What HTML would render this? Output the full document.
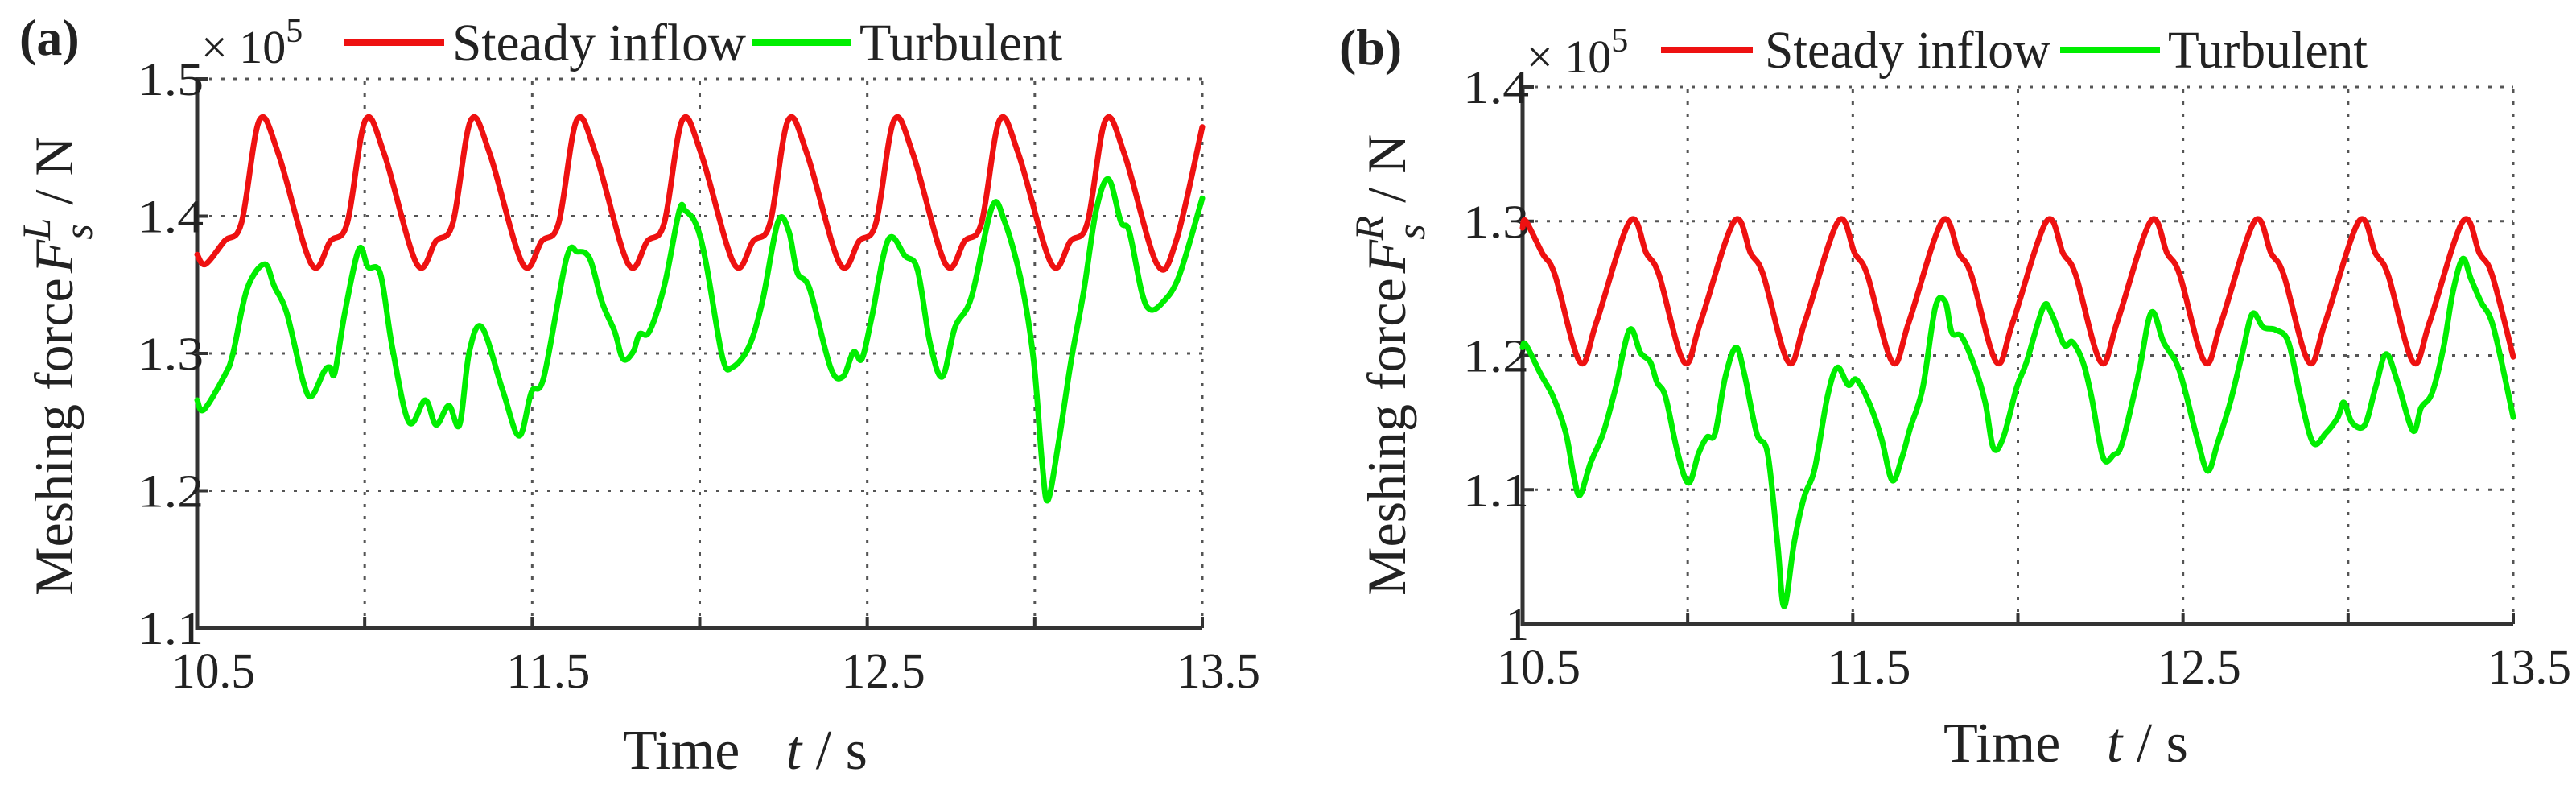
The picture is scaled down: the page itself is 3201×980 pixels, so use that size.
<!DOCTYPE html>
<html><head><meta charset="utf-8"><style>
html,body{margin:0;padding:0;background:#fff;}
svg text{font-family:"Liberation Serif",serif;fill:#222;}
</style></head><body>
<svg id="fig" width="3201" height="975" viewBox="0 0 3201 975" xmlns="http://www.w3.org/2000/svg"></svg>
<script>
// ---------- Data ----------
const xTicks = [10.5, 11, 11.5, 12, 12.5, 13, 13.5];
const xTickLabels = ["10.5", "", "11.5", "", "12.5", "", "13.5"];
const yTicksA = [1.1, 1.2, 1.3, 1.4, 1.5];
const yTickLabelsA = ["1.1", "1.2", "1.3", "1.4", "1.5"];
const yTicksB = [1.0, 1.1, 1.2, 1.3, 1.4];
const yTickLabelsB = ["1", "1.1", "1.2", "1.3", "1.4"];
const seriesNames = ["Steady inflow", "Turbulent"];

const redA_t = [10.5,10.525,10.582,10.632,10.686,10.743,10.841,10.898,10.948,11.002,11.059,11.156,11.213,11.263,11.317,11.374,11.472,11.529,11.579,11.633,11.690,11.787,11.844,11.894,11.948,12.005,12.103,12.160,12.210,12.264,12.321,12.419,12.476,12.526,12.580,12.637,12.734,12.791,12.841,12.895,12.952,13.050,13.107,13.157,13.211,13.268,13.365,13.422,13.5];
const redA_v = [1.372,1.365,1.382,1.395,1.47,1.445,1.365,1.382,1.395,1.47,1.445,1.365,1.382,1.395,1.47,1.445,1.365,1.382,1.395,1.47,1.445,1.365,1.382,1.395,1.47,1.445,1.365,1.382,1.395,1.47,1.445,1.365,1.382,1.395,1.47,1.445,1.365,1.382,1.395,1.47,1.445,1.365,1.382,1.395,1.47,1.445,1.365,1.382,1.465];

const greenA_t = [10.500,10.520,10.582,10.607,10.649,10.701,10.730,10.768,10.817,10.842,10.879,10.896,10.911,10.941,10.983,11.010,11.047,11.082,11.132,11.181,11.213,11.251,11.283,11.312,11.350,11.412,11.461,11.498,11.535,11.602,11.635,11.672,11.709,11.746,11.771,11.801,11.820,11.850,11.895,11.939,11.957,11.989,12.018,12.068,12.098,12.147,12.187,12.234,12.266,12.291,12.328,12.390,12.427,12.459,12.484,12.514,12.563,12.613,12.650,12.687,12.724,12.762,12.811,12.873,12.910,12.960,12.997,13.022,13.039,13.071,13.108,13.146,13.183,13.220,13.257,13.282,13.319,13.344,13.381,13.430,13.500];
const greenA_v = [1.266,1.259,1.284,1.300,1.347,1.365,1.349,1.329,1.279,1.269,1.287,1.290,1.286,1.330,1.376,1.363,1.358,1.305,1.250,1.266,1.248,1.262,1.248,1.301,1.319,1.273,1.240,1.272,1.283,1.369,1.374,1.369,1.337,1.316,1.296,1.301,1.314,1.316,1.350,1.404,1.404,1.394,1.367,1.297,1.290,1.305,1.338,1.396,1.389,1.359,1.347,1.290,1.283,1.301,1.296,1.327,1.383,1.371,1.361,1.308,1.283,1.319,1.341,1.407,1.396,1.352,1.294,1.220,1.193,1.235,1.294,1.345,1.404,1.427,1.396,1.389,1.345,1.332,1.337,1.356,1.413];

const redB_t = [10.5,10.510,10.560,10.598,10.674,10.724,10.825,10.875,10.913,10.989,11.039,11.141,11.191,11.229,11.305,11.355,11.456,11.506,11.544,11.620,11.670,11.771,11.821,11.859,11.935,11.985,12.087,12.137,12.175,12.251,12.301,12.402,12.452,12.490,12.566,12.616,12.717,12.767,12.805,12.881,12.931,13.033,13.083,13.121,13.197,13.247,13.348,13.398,13.436,13.5];
const redB_v = [1.295,1.30,1.276,1.26,1.195,1.225,1.30,1.276,1.26,1.195,1.225,1.30,1.276,1.26,1.195,1.225,1.30,1.276,1.26,1.195,1.225,1.30,1.276,1.26,1.195,1.225,1.30,1.276,1.26,1.195,1.225,1.30,1.276,1.26,1.195,1.225,1.30,1.276,1.26,1.195,1.225,1.30,1.276,1.26,1.195,1.225,1.30,1.276,1.26,1.199];

const greenB_t = [10.500,10.510,10.555,10.593,10.631,10.656,10.674,10.706,10.744,10.782,10.824,10.857,10.887,10.907,10.933,10.970,11.003,11.033,11.058,11.083,11.114,11.146,11.171,11.209,11.242,11.272,11.292,11.322,11.352,11.385,11.423,11.453,11.486,11.511,11.549,11.586,11.619,11.649,11.674,11.712,11.750,11.780,11.800,11.830,11.870,11.901,11.926,11.956,11.996,12.026,12.077,12.102,12.140,12.165,12.197,12.223,12.258,12.290,12.316,12.366,12.404,12.441,12.479,12.504,12.542,12.575,12.605,12.643,12.680,12.710,12.743,12.781,12.819,12.856,12.894,12.932,12.969,12.987,13.012,13.050,13.083,13.115,13.150,13.196,13.221,13.254,13.289,13.317,13.347,13.372,13.402,13.440,13.500];
const greenB_v = [1.206,1.208,1.186,1.169,1.142,1.109,1.096,1.120,1.142,1.176,1.219,1.202,1.195,1.180,1.169,1.127,1.105,1.127,1.139,1.142,1.184,1.206,1.187,1.142,1.127,1.060,1.013,1.060,1.094,1.116,1.169,1.191,1.178,1.182,1.165,1.139,1.107,1.124,1.146,1.176,1.236,1.240,1.217,1.214,1.191,1.165,1.131,1.139,1.176,1.195,1.236,1.231,1.208,1.210,1.195,1.169,1.124,1.126,1.135,1.187,1.232,1.210,1.195,1.176,1.139,1.114,1.135,1.165,1.202,1.231,1.221,1.219,1.210,1.169,1.135,1.142,1.154,1.165,1.150,1.148,1.176,1.201,1.180,1.144,1.161,1.172,1.206,1.247,1.272,1.257,1.240,1.221,1.154];

// ---------- Rendering ----------
const NS = "http://www.w3.org/2000/svg";
const svg = document.getElementById("fig");
function mk(tag, attrs, parent) {
  const e = document.createElementNS(NS, tag);
  for (const k in attrs) e.setAttribute(k, attrs[k]);
  (parent || svg).appendChild(e);
  return e;
}
function smoothPath(pts) {
  let d = "M" + pts[0][0].toFixed(1) + "," + pts[0][1].toFixed(1);
  for (let i = 0; i < pts.length - 1; i++) {
    const p0 = pts[i - 1] || pts[i], p1 = pts[i], p2 = pts[i + 1], p3 = pts[i + 2] || p2;
    const c1x = p1[0] + (p2[0] - p0[0]) / 6, c1y = p1[1] + (p2[1] - p0[1]) / 6;
    const c2x = p2[0] - (p3[0] - p1[0]) / 6, c2y = p2[1] - (p3[1] - p1[1]) / 6;
    d += "C" + c1x.toFixed(1) + "," + c1y.toFixed(1) + " " + c2x.toFixed(1) + "," + c2y.toFixed(1) + " " + p2[0].toFixed(1) + "," + p2[1].toFixed(1);
  }
  return d;
}

function panel(cfg) {
  const g = mk("g", {});
  
  
  const xS = t => cfg.x0 + (t - xTicks[0]) / (xTicks[xTicks.length - 1] - xTicks[0]) * (cfg.x1 - cfg.x0);
  const yS = v => cfg.y0 - (v - cfg.yTicks[0]) / (cfg.yTicks[cfg.yTicks.length - 1] - cfg.yTicks[0]) * (cfg.y0 - cfg.y1);

  xTicks.forEach((t, i) => {
    if (i === 0) return;
    const l = mk("line", {x1: xS(t), x2: xS(t), y1: cfg.y0, y2: cfg.y1, stroke: "#555", "stroke-width": 3, "stroke-dasharray": "4 11"}, g);
    
    
  });
  cfg.yTicks.forEach((v, i) => {
    if (i === 0) return;
    const l = mk("line", {x1: cfg.x0, x2: cfg.x1, y1: yS(v), y2: yS(v), stroke: "#555", "stroke-width": 3, "stroke-dasharray": "4 11"}, g);
    
    
  });
  const ax = mk("path", {d: `M${cfg.x0},${cfg.y1 - 2} L${cfg.x0},${cfg.y0} L${cfg.x1},${cfg.y0}`, fill: "none", stroke: "#333", "stroke-width": 5}, g);
  
  
  xTicks.forEach((t, i) => {
    const tk = mk("line", {x1: xS(t), x2: xS(t), y1: cfg.y0, y2: cfg.y0 - 14, stroke: "#333", "stroke-width": 4}, g);
    
    
    if (xTickLabels[i]) {
      const tx = mk("text", {x: xS(t) + 20, y: cfg.y0 + 74, "font-size": 62, "text-anchor": "middle", textLength: 104, lengthAdjust: "spacingAndGlyphs"}, g);
      tx.textContent = xTickLabels[i];
      
      
    }
  });
  cfg.yTicks.forEach((v, i) => {
    const tk = mk("line", {x1: cfg.x0, x2: cfg.x0 + 14, y1: yS(v), y2: yS(v), stroke: "#333", "stroke-width": 4}, g);
    
    
    const lab = cfg.yLabels[i];
    const attrs = {x: cfg.x0 + 8, y: yS(v) + 20, "font-size": 58, "text-anchor": "end"};
    if (lab.length === 3) { attrs.textLength = 82; attrs.lengthAdjust = "spacingAndGlyphs"; }
    const tx = mk("text", attrs, g);
    tx.textContent = lab;
    
    
  });
  const ser = [[cfg.gt, cfg.gv, "#00ee00", "turbulent-line"], [cfg.rt, cfg.rv, "#ee1111", "steady-inflow-line"]];
  ser.forEach(s => {
    const pts = s[0].map((t, i) => [xS(t), yS(s[1][i])]);
    const p = mk("path", {d: smoothPath(pts), fill: "none", stroke: s[2], "stroke-width": 7, "stroke-linejoin": "round", "stroke-linecap": "round"}, g);
    
    
  });
  const pl = mk("text", {x: cfg.labX, y: cfg.labY, "font-size": 64, "font-weight": "bold"}, g);
  pl.textContent = cfg.label;
  
  
  const ex = mk("text", {x: cfg.expX, y: cfg.expY, "font-size": 58}, g);
  ex.innerHTML = '× 10<tspan dy="-26" font-size="42">5</tspan>';
  
  
  const cols = ["#ee1111", "#00ee00"];
  cfg.leg.forEach((L, i) => {
    const ll = mk("line", {x1: L[0], x2: L[1], y1: cfg.legY, y2: cfg.legY, stroke: cols[i], "stroke-width": 8}, g);
    
    
    const lt = mk("text", {x: L[2], y: cfg.legY + 22, "font-size": 66, textLength: L[3], lengthAdjust: "spacingAndGlyphs"}, g);
    lt.textContent = seriesNames[i];
    
    
  });
  const yt = mk("text", {transform: `translate(${cfg.ytX},${cfg.ytY}) rotate(-90)`, "font-size": 68, "letter-spacing": 0}, g);
  yt.innerHTML = 'Meshing force<tspan font-style="italic" dx="6">F</tspan><tspan font-style="italic" font-size="50" dy="24">s</tspan><tspan font-style="italic" font-size="50" dy="-52" dx="-20">' + cfg.sup + '</tspan><tspan dy="28" dx="16">/  N</tspan>';
  
  
  const xt = mk("text", {x: cfg.xtX, y: cfg.xtY, "font-size": 70}, g);
  xt.innerHTML = 'Time <tspan dx="40" font-style="italic">t</tspan> / s';
  
  
}

panel({name: "panel-a", x0: 245, x1: 1494, y0: 780, y1: 98, yTicks: yTicksA, yLabels: yTickLabelsA,
  rt: redA_t, rv: redA_v, gt: greenA_t, gv: greenA_v, label: "(a)", labX: 24, labY: 68,
  expX: 250, expY: 78, legY: 53, leg: [[428, 552, 562, 365], [934, 1058, 1068, 252]],
  ytX: 90, ytY: 740, sup: "L", xtX: 774, xtY: 955});
panel({name: "panel-b", x0: 1892, x1: 3123, y0: 775, y1: 108, yTicks: yTicksB, yLabels: yTickLabelsB,
  rt: redB_t, rv: redB_v, gt: greenB_t, gv: greenB_v, label: "(b)", labX: 1664, labY: 80,
  expX: 1897, expY: 90, legY: 62, leg: [[2064, 2178, 2193, 355], [2560, 2684, 2694, 248]],
  ytX: 1746, ytY: 740, sup: "R", xtX: 2415, xtY: 946});
</script>
</body></html>
